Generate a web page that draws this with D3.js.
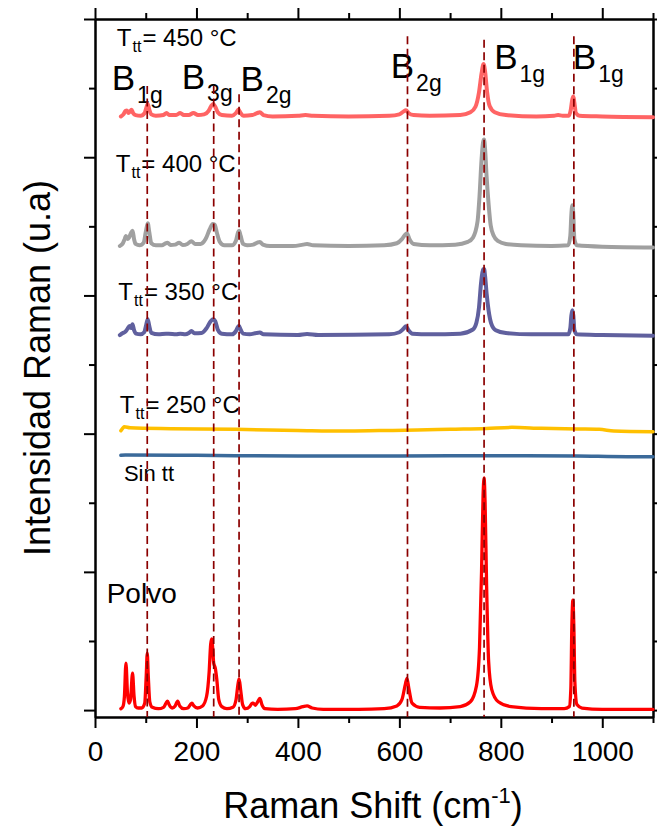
<!DOCTYPE html>
<html><head><meta charset="utf-8">
<script src="https://cdn.jsdelivr.net/npm/d3@7"></script>
<style>body{margin:0;background:#fff;} text{font-family:"Liberation Sans",Arial,sans-serif;fill:#000;}</style>
</head><body><svg id="c" width="657" height="832"></svg>
<script>
// ---------- DATA ----------
const xMajor = [0, 200, 400, 600, 800, 1000];
const xMinor = [100, 300, 500, 700, 900, 1100];
const yMajor = [0, 2, 4, 6, 8, 10];
const yMinor = [1, 3, 5, 7, 9];

const seriesNames = ["Polvo", "Sin tt", "250", "350", "400", "450"];
const seriesOffsets = [0, 3.676, 4.052, 5.427, 6.715, 8.59];
const seriesColors = ["#ff0000", "#3b6a9a", "#ffc000", "#60609e", "#a0a0a0", "#ff6464"];

const polvo = [[51,0.02],[55,0.05],[58,0.2],[61,0.68],[64,0.25],[67,0.1],[70,0.15],[74,0.535],[77,0.2],[80,0.05],[85,0.03],[92,0.03],[98,0.1],[101,0.5],[103,0.825],[105,0.5],[108,0.12],[113,0.04],[125,0.02],[135,0.04],[140,0.1],[143,0.13],[146,0.08],[152,0.03],[158,0.06],[163,0.13],[167,0.06],[175,0.02],[183,0.03],[188,0.08],[191,0.10],[195,0.06],[202,0.03],[212,0.06],[220,0.2],[225,0.55],[228,0.95],[230,1.03],[232,0.9],[234,0.68],[237,0.61],[240,0.45],[244,0.15],[250,0.05],[260,0.02],[272,0.04],[278,0.15],[282,0.38],[284,0.45],[287,0.3],[291,0.08],[297,0.02],[305,0.05],[310,0.1],[312,0.1],[316,0.07],[320,0.11],[325,0.17],[329,0.08],[335,0.02],[360,0.01],[395,0.02],[410,0.05],[418,0.06],[428,0.03],[450,0.01],[520,0.01],[570,0.02],[595,0.06],[605,0.15],[612,0.38],[615,0.46],[619,0.3],[625,0.1],[640,0.04],[680,0.03],[720,0.05],[740,0.12],[752,0.35],[758,0.9],[762,2.0],[765,3.1],[767,3.36],[769,3.0],[772,1.8],[776,0.7],[782,0.3],[795,0.12],[820,0.05],[880,0.02],[925,0.02],[935,0.05],[938,0.3],[940,1.2],[942,1.59],[944,1.2],[946,0.4],[950,0.08],[960,0.03],[1000,0.01],[1100,0.01]];

const sinTT = [[51,0.01],[60,0.015],[200,0.01],[400,0.0],[600,0.0],[800,0.005],[950,0.0],[1050,-0.01],[1100,-0.01]];

const t250 = [[51,-0.01],[55,0.03],[58,0.048],[69,0.033],[150,0.02],[277,0.01],[400,-0.005],[492,-0.014],[560,-0.008],[635,0],[700,0.012],[771,0.024],[822,0.039],[880,0.025],[950,0.015],[994,0.01],[1023,-0.014],[1100,-0.025]];

const t350 = [[49,0],[55,0.03],[60,0.05],[64,0.09],[68,0.13],[71,0.1],[74,0.155],[77,0.07],[81,0.02],[90,0.01],[97,0.04],[101,0.15],[104,0.23],[107,0.13],[111,0.03],[125,0.01],[140,0.02],[145,0.02],[160,0.01],[168,0.02],[178,0.01],[185,0.03],[190,0.058],[196,0.025],[210,0.03],[220,0.1],[228,0.2],[233,0.23],[237,0.2],[242,0.08],[250,0.02],[270,0.01],[278,0.06],[282,0.12],[284,0.13],[287,0.08],[292,0.02],[305,0.01],[318,0.03],[325,0.035],[332,0.01],[400,0.0],[418,0.015],[440,0],[580,0.01],[600,0.04],[608,0.09],[613,0.126],[618,0.07],[626,0.02],[660,0.01],[720,0.02],[745,0.08],[752,0.18],[757,0.4],[761,0.75],[765,0.95],[767,0.955],[769,0.85],[772,0.6],[776,0.35],[781,0.17],[790,0.07],[810,0.03],[860,0.01],[933,0.01],[937,0.1],[939,0.28],[941,0.36],[943,0.28],[945,0.07],[950,0.01],[1000,0],[1100,-0.01]];

const t400 = [[49,0],[55,0.04],[58,0.09],[61,0.145],[64,0.1],[67,0.12],[71,0.19],[74,0.22],[77,0.1],[80,0.03],[88,0.01],[96,0.05],[100,0.2],[104,0.33],[107,0.2],[111,0.04],[120,0.01],[132,0.01],[138,0.035],[143,0.048],[149,0.015],[158,0.02],[166,0.048],[173,0.015],[182,0.03],[190,0.07],[197,0.03],[208,0.03],[218,0.1],[226,0.24],[232,0.32],[236,0.31],[240,0.2],[246,0.06],[255,0.01],[270,0.01],[278,0.08],[282,0.2],[284,0.22],[287,0.15],[292,0.03],[300,0.01],[312,0.02],[320,0.05],[325,0.06],[331,0.02],[345,0.0],[390,0.0],[410,0.02],[418,0.03],[430,0.01],[500,0],[570,0.01],[595,0.04],[605,0.1],[612,0.17],[615,0.18],[620,0.1],[628,0.03],[660,0.01],[710,0.02],[735,0.06],[745,0.12],[754,0.35],[758,0.72],[762,1.25],[765,1.5],[767,1.54],[769,1.4],[772,1.0],[776,0.6],[780,0.3],[786,0.15],[795,0.07],[810,0.03],[840,0.01],[900,0.0],[933,0.01],[937,0.15],[939,0.45],[941,0.59],[943,0.45],[945,0.1],[950,0.01],[1000,-0.01],[1100,-0.02]];

const t450 = [[51,0],[56,0.03],[60,0.08],[63,0.087],[66,0.05],[69,0.07],[72,0.097],[75,0.05],[80,0.02],[90,0.01],[98,0.05],[101,0.12],[104,0.18],[107,0.1],[111,0.03],[120,0.01],[135,0.02],[141,0.05],[147,0.02],[160,0.02],[168,0.05],[175,0.02],[185,0.02],[194,0.05],[203,0.02],[215,0.03],[224,0.08],[229,0.15],[233,0.18],[237,0.14],[242,0.06],[250,0.02],[270,0.01],[278,0.05],[283,0.1],[287,0.05],[293,0.01],[310,0.02],[320,0.05],[325,0.06],[332,0.02],[350,0.0],[400,0.01],[415,0.02],[430,0.01],[500,0.0],[580,0.01],[600,0.03],[608,0.07],[613,0.09],[618,0.05],[628,0.02],[660,0.01],[720,0.02],[740,0.06],[750,0.14],[757,0.35],[762,0.62],[766,0.76],[769,0.65],[773,0.35],[778,0.15],[788,0.06],[810,0.02],[870,0.0],[905,0.01],[913,0.02],[922,0.01],[934,0.01],[938,0.1],[941,0.25],[943,0.29],[945,0.2],[948,0.05],[955,0.01],[1000,0],[1100,-0.01]];

const seriesData = [polvo, sinTT, t250, t350, t400, t450];

// Raman mode guide lines (wavenumber, top in intensity units)
const modeShift = [103, 234, 284, 616, 767, 944];
const modeTop = [9.03, 9.03, 8.91, 9.75, 9.70, 9.75];

// Mode labels
const modeLabelMain = ["B", "B", "B", "B", "B", "B"];
const modeLabelSub = ["1g", "3g", "2g", "2g", "1g", "1g"];
const modeLabelX = [33, 171, 287, 583, 787, 942];
const modeLabelY = [8.97, 8.99, 8.96, 9.14, 9.27, 9.27];

// Temperature labels
const tempText = ["= 450 °C", "= 400 °C", "= 350 °C", "= 250 °C"];
const tempX = [43, 41, 46, 49];
const tempY = [9.61, 7.79, 5.93, 4.30];

const otherText = ["Sin tt", "Polvo"];
const otherX = [57, 23];
const otherY = [3.31, 1.544];
const otherSize = [22, 28];

// ---------- CHART ----------
const svg = d3.select("#c");
const x = d3.scaleLinear().domain([0, 1100]).range([95, 653]);
const y = d3.scaleLinear().domain([-0.1, 10]).range([717, 19]);

function styleAxis(g) {
  g.select(".domain").attr("stroke", "#000").attr("stroke-width", 2);
  g.selectAll(".tick line").attr("stroke", "#000").attr("stroke-width", 2);
}

const gb = svg.append("g").attr("transform", `translate(0,${y(-0.1)})`)
  .call(d3.axisBottom(x).tickValues(xMajor).tickSize(11).tickSizeOuter(0).tickPadding(13).tickFormat(d3.format("d")));
styleAxis(gb);
gb.selectAll(".tick text").attr("font-size", 28).attr("font-family", "'Liberation Sans', Arial, sans-serif").attr("fill", "#000");
const gbm = svg.append("g").attr("transform", `translate(0,${y(-0.1)})`)
  .call(d3.axisBottom(x).tickValues(xMinor).tickSize(6).tickSizeOuter(0).tickFormat(""));
styleAxis(gbm);

const gt = svg.append("g").attr("transform", `translate(0,${y(10)})`)
  .call(d3.axisTop(x).tickValues(xMajor).tickSize(11).tickSizeOuter(0).tickFormat(""));
styleAxis(gt);
const gtm = svg.append("g").attr("transform", `translate(0,${y(10)})`)
  .call(d3.axisTop(x).tickValues(xMinor).tickSize(6).tickSizeOuter(0).tickFormat(""));
styleAxis(gtm);

const gl = svg.append("g").attr("transform", `translate(${x(0)},0)`)
  .call(d3.axisLeft(y).tickValues(yMajor).tickSize(11).tickSizeOuter(0).tickFormat(""));
styleAxis(gl);
const glm = svg.append("g").attr("transform", `translate(${x(0)},0)`)
  .call(d3.axisLeft(y).tickValues(yMinor).tickSize(6).tickSizeOuter(0).tickFormat(""));
styleAxis(glm);

const gr = svg.append("g").attr("transform", `translate(${x(1100)},0)`)
  .call(d3.axisRight(y).tickValues(yMajor).tickSize(11).tickSizeOuter(0).tickFormat(""));
styleAxis(gr);
const grm = svg.append("g").attr("transform", `translate(${x(1100)},0)`)
  .call(d3.axisRight(y).tickValues(yMinor).tickSize(6).tickSizeOuter(0).tickFormat(""));
styleAxis(grm);

// Axis titles
const xt = svg.append("text").attr("x", (x(0) + x(1100)) / 2 - 1).attr("y", 818)
  .attr("text-anchor", "middle").attr("font-size", 36);
xt.append("tspan").text("Raman Shift (cm");
xt.append("tspan").attr("font-size", 22).attr("dy", -15).text("-1");
xt.append("tspan").attr("dy", 15).text(")");

svg.append("text").attr("transform", `translate(50,${(y(-0.1) + y(10)) / 2}) rotate(-90)`)
  .attr("text-anchor", "middle").attr("font-size", 36).text("Intensidad Raman (u.a)");

// Labels
modeLabelMain.forEach((m, i) => {
  const t = svg.append("text").attr("x", x(modeLabelX[i])).attr("y", y(modeLabelY[i])).attr("font-size", 35);
  t.append("tspan").text(m);
  t.append("tspan").attr("font-size", 23).attr("dx", 2).attr("dy", 12.5).text(modeLabelSub[i]);
});

tempText.forEach((s, i) => {
  const t = svg.append("text").attr("x", x(tempX[i])).attr("y", y(tempY[i])).attr("font-size", 24);
  t.append("tspan").text("T");
  t.append("tspan").attr("font-size", 16).attr("dx", 1).attr("dy", 6).text("tt");
  t.append("tspan").attr("dx", 1).attr("dy", -6).text(s);
});

otherText.forEach((s, i) => {
  svg.append("text").attr("x", x(otherX[i])).attr("y", y(otherY[i])).attr("font-size", otherSize[i]).text(s);
});

// Spectra
seriesData.forEach((d, i) => {
  const line = d3.line()
    .x(p => x(p[0]))
    .y(p => y(p[1] + seriesOffsets[i]))
    .curve(d3.curveMonotoneX);
  svg.append("path").datum(d).attr("d", line)
    .attr("fill", "none").attr("stroke", seriesColors[i])
    .attr("stroke-width", i === 0 ? 3.3 : (i === 1 || i === 2 ? 3.5 : 4))
    .attr("stroke-linejoin", "round").attr("stroke-linecap", "round");
});

// Guide lines
modeShift.forEach((v, i) => {
  svg.append("line")
    .attr("x1", x(v)).attr("x2", x(v))
    .attr("y1", y(modeTop[i])).attr("y2", y(-0.1))
    .attr("stroke", "#8b0000").attr("stroke-width", 1.7)
    .attr("stroke-dasharray", "8,4.5");
});
</script></body></html>
